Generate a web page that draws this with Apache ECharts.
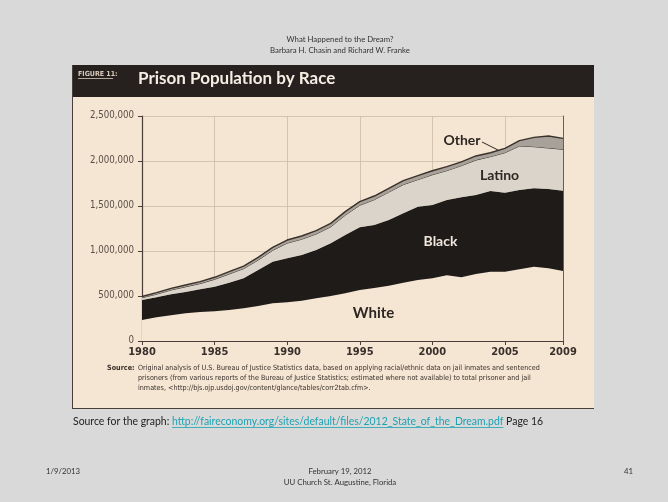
<!DOCTYPE html>
<html>
<head>
<meta charset="utf-8">
<script src="https://cdn.jsdelivr.net/npm/echarts@6/dist/echarts.min.js"></script>
<style>html,body{margin:0;padding:0;background:#d9d9d9;}#c{width:668px;height:502px;}</style>
</head>
<body>
<div id="c"></div>
<script>
// Years and stacked values (persons)
const years = ['1980','1981','1982','1983','1984','1985','1986','1987','1988','1989','1990','1991','1992','1993','1994','1995','1996','1997','1998','1999','2000','2001','2002','2003','2004','2005','2006','2007','2008','2009'];
const white  = [233000,263000,285000,307000,322000,330000,344000,363000,389000,419000,430000,448000,474000,500000,530000,567000,589000,614000,648000,678000,697000,730000,708000,744000,770000,770000,797000,826000,808000,778000];
const black  = [223000,222000,234000,237000,252000,273000,304000,333000,400000,462000,489000,508000,537000,585000,648000,696000,700000,730000,771000,815000,814000,837000,889000,878000,897000,878000,881000,870000,881000,892000];
const latino = [25000,35000,48000,58000,64000,82000,96000,108000,110000,126000,168000,175000,178000,184000,220000,245000,281000,310000,319000,300000,336000,326000,351000,388000,381000,444000,489000,463000,455000,460000];
const other  = [14000,17000,18000,20000,21000,23000,26000,29000,31000,34000,35000,36000,37000,38000,39000,40000,41000,42000,43000,44000,45000,44000,42000,46000,44000,49000,59000,104000,134000,122000];
const yTicks = [0,500000,1000000,1500000,2000000,2500000];
const xLabelYears = ['1980','1985','1990','1995','2000','2005','2009'];
const xGridYears = ['1985','1990','1995','2000','2005'];

const sourceLines = [
  "Original analysis of U.S. Bureau of Justice Statistics data, based on applying racial/ethnic data on jail inmates and sentenced",
  "prisoners (from various reports of the Bureau of Justice Statistics; estimated where not available) to total prisoner and jail",
  "inmates, <http://bjs.ojp.usdoj.gov/content/glance/tables/corr2tab.cfm>."
];

const mctx = document.createElement('canvas').getContext('2d');
function fitSize(text, family, weight, targetW){
  mctx.font = weight + ' 20px ' + family;
  return 20 * targetW / mctx.measureText(text).width;
}
function textW(text, font){ mctx.font = font; return mctx.measureText(text).width; }

const condensed = "'Liberation Sans Narrow','DejaVu Sans Condensed',sans-serif";
const slideFont = "Lato,'Open Sans',sans-serif";

const chart = echarts.init(document.getElementById('c'), null, {renderer:'canvas'});

const srcSize = fitSize(sourceLines[0], condensed, 'normal', 403);
const yLabSize = Math.min(12, fitSize('1,500,000', condensed, 'normal', 44));
const hdrSize = fitSize('What Happened to the Dream?', slideFont, 'normal', 107);
const s1 = "Source for the graph: ";
const link = "http://faireconomy.org/sites/default/files/2012_State_of_the_Dream.pdf";
const s3 = " Page 16";
const slSize = fitSize(s1+link+s3, slideFont, 'normal', 471);
const slFont = slSize + 'px ' + slideFont;
const w1 = textW(s1, slFont), w2 = textW(link, slFont);
const smallFont = hdrSize + 'px ' + slideFont;

const darkLine = '#3b312b';
const cream = '#f4e6d3';

const graphics = [
  {type:'rect', z:-10, shape:{x:72,y:65,width:522,height:344}, style:{fill:cream}},
  {type:'rect', z:-9, shape:{x:72,y:65,width:522,height:32}, style:{fill:'#26211e'}},
  {type:'line', z:-8, shape:{x1:72.5,y1:65,x2:72.5,y2:409}, style:{stroke:'#4a3f38',lineWidth:1}},
  {type:'line', z:-8, shape:{x1:72,y1:408.5,x2:594,y2:408.5}, style:{stroke:'#4a3f38',lineWidth:1.2}},
  {type:'text', x:78, y:74, style:{text:'FIGURE 11:', font:'bold 7px '+condensed, fill:'#d9cbb8', verticalAlign:'middle'}},
  {type:'line', shape:{x1:78,y1:78.5,x2:113,y2:78.5}, style:{stroke:'#d9cbb8',lineWidth:0.8}},
  {type:'text', x:138, y:79, style:{text:'Prison Population by Race', font:'bold 17px '+slideFont, fill:'#f4ede4', verticalAlign:'middle'}},
  // slide header
  {type:'text', x:340, y:39.5, style:{text:'What Happened to the Dream?', font:smallFont, fill:'#333', align:'center', verticalAlign:'middle'}},
  {type:'text', x:340, y:50, style:{text:'Barbara H. Chasin and Richard W. Franke', font:smallFont, fill:'#333', align:'center', verticalAlign:'middle'}},
  // figure source text
  {type:'text', x:107, y:368, style:{text:'Source:', font:'bold '+srcSize+'px '+condensed, fill:'#3a302b', verticalAlign:'middle'}},
  {type:'text', x:138, y:368, style:{text:sourceLines[0], font:srcSize+'px '+condensed, fill:'#3a302b', verticalAlign:'middle'}},
  {type:'text', x:138, y:378, style:{text:sourceLines[1], font:srcSize+'px '+condensed, fill:'#3a302b', verticalAlign:'middle'}},
  {type:'text', x:138, y:388, style:{text:sourceLines[2], font:srcSize+'px '+condensed, fill:'#3a302b', verticalAlign:'middle'}},
  // series labels
  {type:'text', x:462, y:140.5, z:50, style:{text:'Other', font:'bold 14px '+slideFont, fill:'#2e2622', align:'center', verticalAlign:'middle'}},
  {type:'line', z:50, shape:{x1:482,y1:142,x2:498,y2:150}, style:{stroke:'#2e2622',lineWidth:1}},
  {type:'text', x:499.5, y:175.5, z:50, style:{text:'Latino', font:'bold 14px '+slideFont, fill:'#2e2622', align:'center', verticalAlign:'middle'}},
  {type:'text', x:440.5, y:241.5, z:50, style:{text:'Black', font:'bold 14px '+slideFont, fill:'#efe6dc', align:'center', verticalAlign:'middle'}},
  {type:'text', x:373.5, y:313, z:50, style:{text:'White', font:'bold 15px '+slideFont, fill:'#2e2622', align:'center', verticalAlign:'middle'}},
  // slide source line
  {type:'text', x:73, y:422, style:{text:s1, font:slFont, fill:'#222', verticalAlign:'middle'}},
  {type:'text', x:73+w1, y:422, style:{text:link, font:slFont, fill:'#1ba3b3', verticalAlign:'middle'}},
  {type:'line', shape:{x1:73+w1,y1:427.5,x2:73+w1+w2,y2:427.5}, style:{stroke:'#1ba3b3',lineWidth:0.8}},
  {type:'text', x:73+w1+w2, y:422, style:{text:s3, font:slFont, fill:'#222', verticalAlign:'middle'}},
  // footer
  {type:'text', x:46, y:471, style:{text:'1/9/2013', font:smallFont, fill:'#333', verticalAlign:'middle'}},
  {type:'text', x:340, y:471, style:{text:'February 19, 2012', font:smallFont, fill:'#333', align:'center', verticalAlign:'middle'}},
  {type:'text', x:340, y:482, style:{text:'UU Church St. Augustine, Florida', font:smallFont, fill:'#333', align:'center', verticalAlign:'middle'}},
  {type:'text', x:624, y:471, style:{text:'41', font:smallFont, fill:'#333', verticalAlign:'middle'}}
];

function areaSeries(name, data, fill, lineColor, lineWidth, z){
  return {
    name, type:'line', stack:'total', data:data, symbol:'none', smooth:false, z,
    lineStyle:{color:lineColor, width:lineWidth},
    areaStyle:{color:fill, opacity:1},
    emphasis:{disabled:true}, silent:true
  };
}

const option = {
  backgroundColor:'#d9d9d9',
  animation:false,
  grid:{left:142, right:105, top:116, bottom:161, containLabel:false},
  xAxis:{
    type:'category', data:years, boundaryGap:false,
    axisLine:{show:true, lineStyle:{color:'#4a3f38', width:1.2}},
    axisTick:{show:true, length:4, lineStyle:{color:'#4a3f38'},
      interval:(i, v) => xLabelYears.includes(v)},
    axisLabel:{
      color:'#3a302b', fontFamily:condensed, fontWeight:'bold', fontSize:11, margin:6,
      interval:(i, v) => xLabelYears.includes(v)
    },
    splitLine:{show:true, lineStyle:{color:'#c9bba8', width:0.8},
      interval:(i, v) => xGridYears.includes(v)}
  },
  yAxis:[{
    type:'value', min:yTicks[0], max:yTicks[yTicks.length-1], interval:yTicks[1]-yTicks[0],
    axisLine:{show:true, lineStyle:{color:'#4a3f38', width:1.2}},
    axisTick:{show:true, length:4, lineStyle:{color:'#4a3f38'}},
    axisLabel:{color:'#5a4e46', fontFamily:condensed, fontSize:yLabSize, margin:8,
      formatter: v => v.toLocaleString('en-US')},
    splitLine:{show:true, lineStyle:{color:'#c9bba8', width:0.8}}
  },{
    type:'value', min:0, max:2500000, position:'right',
    axisLine:{show:true, lineStyle:{color:'#6a5e55', width:1}},
    axisTick:{show:false}, axisLabel:{show:false}, splitLine:{show:false}
  }],
  series:[
    areaSeries('White', white, cream, 'rgba(0,0,0,0)', 0, 2),
    areaSeries('Black', black, '#1f1b19', '#1f1b19', 0.5, 3),
    areaSeries('Latino', latino, '#dbd4ca', darkLine, 1, 4),
    areaSeries('Other', other, '#a7a199', darkLine, 1.4, 5)
  ],
  graphic:graphics
};
chart.setOption(option);
</script>
</body>
</html>
